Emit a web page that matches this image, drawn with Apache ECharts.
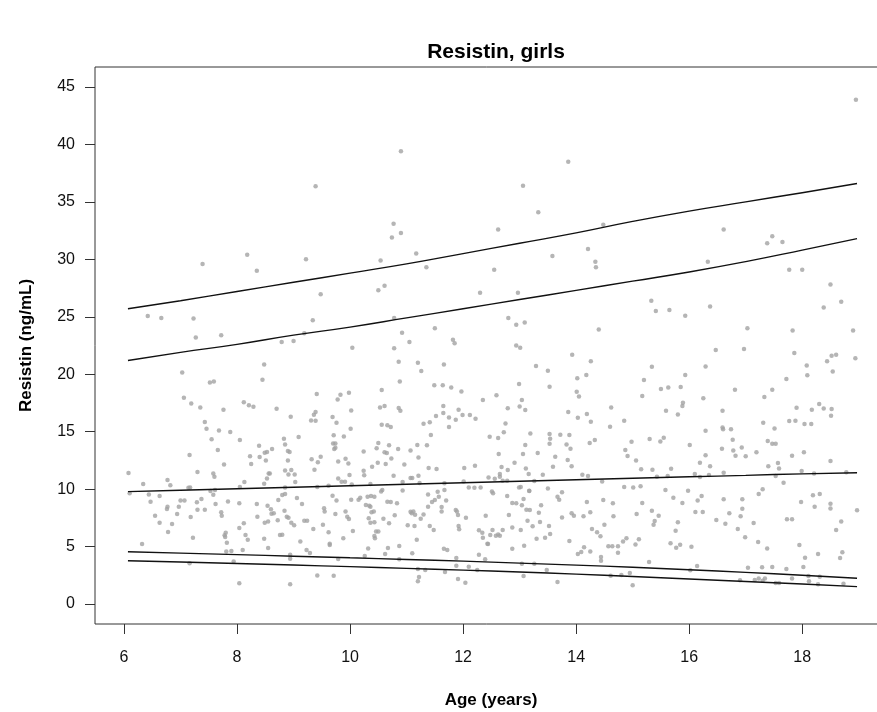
<!DOCTYPE html>
<html>
<head>
<meta charset="utf-8">
<script src="https://cdn.jsdelivr.net/npm/echarts@6/dist/echarts.min.js"></script>
<style>
html,body{margin:0;padding:0;background:#fff;}
#chart{width:877px;height:712px;}
</style>
</head>
<body>
<div id="chart"></div>
<script>
// ---- Data (age in years, resistin ng/mL) ----
const xTicks = [6, 8, 10, 12, 14, 16, 18];
const yTicks = [0, 5, 10, 15, 20, 25, 30, 35, 40, 45];

const obsUpperLeft = [
[6.42,25.07],[6.66,24.9],[7.23,24.86],[7.27,23.2],[7.72,23.4],[7.39,29.6],[8.18,30.4],[8.35,29.0],
[9.22,30.0],[9.39,36.35],[9.48,26.95],[9.34,24.7],[9.19,23.56],[8.79,22.8],[9.0,22.9],[10.04,22.3],
[10.5,27.3],[10.61,27.7],[10.54,29.9],[10.74,31.9],[10.77,33.1],[10.9,32.3],[10.9,39.4],[11.17,30.5],
[11.35,29.3],[10.78,24.9],[10.92,23.6],[11.05,22.8],[10.78,22.25],[11.5,24.0],[11.82,23.0],[11.85,22.7],
[12.3,27.1],[12.55,29.1]
];

const obsUpperRight = [
[18.95,43.9],[13.86,38.5],[13.06,36.4],[13.33,34.1],[12.62,32.6],[14.48,33.0],[16.61,32.6],[17.47,32.0],
[17.38,31.4],[17.65,31.5],[13.58,30.3],[14.21,30.9],[14.34,29.8],[14.35,29.3],[16.33,29.8],[17.77,29.1],
[18.0,29.1],[18.5,27.8],[12.97,27.1],[18.69,26.3],[18.38,25.8],[15.33,26.4],[15.41,25.5],[15.65,25.6],
[15.93,25.1],[16.37,25.9],[12.8,24.9],[12.94,24.3],[13.09,24.5],[14.4,23.9],[17.03,24.0],[17.83,23.8],
[18.9,23.8],[12.94,22.5],[13.01,22.3],[13.93,21.7],[16.47,22.1],[16.97,22.2],[17.86,21.85],[18.52,21.6],
[18.6,21.7],[18.94,21.4]
];

const obsLowerLeft = [
[8.48,20.85],[10.86,21.08],[11.2,21.0],[11.66,20.85],[11.26,20.27],[7.03,20.16],[8.45,19.52],[10.88,19.37],
[7.52,19.29],[7.59,19.37],[11.49,19.05],[11.64,19.05],[11.79,18.85],[11.97,18.5],[12.35,17.75],[9.41,18.27],
[9.83,18.21],[9.98,18.39],[9.78,17.8],[7.06,17.95],[7.19,17.46],[7.35,17.11],[8.12,17.55],[8.21,17.31],
[8.29,17.17],[8.7,17.0],[7.76,16.91],[10.02,16.85],[10.56,18.62],[10.53,17.11],[10.61,17.23],[10.86,17.05],
[10.89,16.82],[11.65,17.23],[11.92,16.91],[11.65,16.62],[11.52,16.36],[11.87,16.04],[11.75,16.24],[11.99,16.45],
[12.12,16.45],[12.22,16.13],[8.95,16.3],[9.39,16.71],[9.36,16.47],[9.31,15.98],[9.39,15.95],[9.69,16.27],
[9.76,15.78],[11.3,15.69],[11.41,15.81],[11.75,15.4],[10.56,15.6],[10.66,15.55],[10.72,15.4],[7.43,15.84],
[7.46,15.26],[7.68,15.11],[7.88,14.97],[7.55,14.33],[8.05,14.27],[8.83,14.39],[8.85,13.89],[9.09,14.53],
[8.9,13.31],[9.71,14.68],[9.7,13.98],[9.74,13.98],[9.89,14.59],[10.01,15.26],[11.43,14.7],[12.47,14.56],
[8.39,13.78],[8.62,13.49],[8.49,13.17],[8.53,13.23],[8.23,12.85],[8.25,12.18],[8.4,12.79],[8.51,12.5],
[8.58,11.37],[8.9,12.5],[9.32,12.59],[9.43,12.33],[9.48,12.82],[9.37,11.69],[9.74,13.6],[9.72,13.49],
[10.24,13.28],[10.5,14.01],[10.47,13.55],[10.69,13.81],[10.61,13.2],[10.65,13.14],[10.63,12.18],[10.73,12.67],
[10.85,13.49],[11.07,13.37],[11.19,13.84],[11.36,13.81],[11.21,12.76],[7.16,12.97],[7.3,11.49],[7.77,12.15],
[7.66,13.4],[8.93,13.23],[8.85,11.63],[8.96,11.66],[9.02,11.28],[8.91,11.28],[9.03,10.62],[9.79,12.41],
[9.92,12.65],[9.97,12.24],[9.79,10.93],[9.91,10.65],[9.99,11.22],[10.24,11.6],[10.25,11.2],[10.39,11.95],
[10.49,12.3],[10.57,9.92],[10.55,9.8],[10.96,12.15],[11.39,11.83],[11.53,11.75],[12.02,11.83],[12.21,12.04],
[12.45,11.02],[12.56,10.91],[6.08,11.4],[6.34,10.44],[6.77,10.79],[6.82,10.33],[7.17,10.15],[7.58,11.37],
[7.6,11.08],[7.53,9.83],[7.58,9.51],[7.61,9.92],[8.05,10.18],[8.13,10.62],[8.48,10.47],[8.53,10.93],
[8.56,11.37],[8.85,10.15],[9.42,10.18],[9.62,10.3],[9.85,10.65],[10.03,10.41],[10.36,10.44],[10.77,11.17],
[10.93,10.62],[11.07,10.96],[11.1,10.96],[11.21,11.17],[11.23,10.53],[11.67,10.5],[11.67,9.92],[12.01,10.67],
[12.1,10.15],[12.2,10.12],[12.31,10.15],[12.51,9.8],[12.53,9.63],
[6.1,9.63],[6.44,9.54],[6.47,8.9],[6.63,9.4],[6.55,7.69],[6.63,7.08],[6.77,8.47],[6.76,8.27],
[6.85,6.96],[6.78,6.27],[6.94,7.83],[6.97,8.47],[7.0,9.02],[7.07,9.02],[7.18,7.57],[7.29,8.85],
[7.3,8.21],[7.37,9.14],[7.43,8.21],[7.22,5.77],[7.62,8.7],[7.72,7.98],[7.73,7.69],[7.84,8.93],
[7.78,5.98],[7.8,6.21],[7.79,5.83],[7.82,5.34],[7.81,4.58],[7.9,4.61],[7.94,3.71],[8.04,8.76],
[8.04,6.61],[8.12,7.02],[8.15,6.0],[8.19,5.6],[8.1,4.7],[8.35,8.7],[8.36,7.6],[8.48,5.69],
[8.49,7.08],[8.55,7.19],[8.54,8.56],[8.6,8.24],[8.61,7.86],[8.65,7.89],[8.55,4.87],[8.72,7.28],
[8.73,9.05],[8.76,6.0],[8.8,6.03],[8.8,9.48],[8.85,9.57],[8.84,8.12],[8.88,7.6],[8.91,7.51],
[8.96,7.08],[9.01,6.85],[9.06,9.22],[9.12,5.45],[9.15,8.7],[9.19,7.25],[9.24,7.25],[9.35,6.53],
[9.23,4.7],[9.29,4.44],[9.54,8.33],[9.55,8.06],[9.52,6.9],[9.62,6.24],[9.64,5.25],[9.64,5.14],
[9.69,9.43],[9.74,7.83],[9.76,9.02],[9.88,5.72],[9.92,8.06],[9.95,7.6],[9.98,7.4],[10.05,6.35],
[10.02,9.08],[10.15,9.08],[10.18,9.25],[10.28,8.61],[10.31,9.34],[10.37,9.4],[10.43,9.34],[10.34,8.56],
[10.36,8.47],[10.38,7.98],[10.42,8.06],[10.33,7.46],[10.36,7.08],[10.43,7.11],[10.46,6.32],[10.5,6.32],
[10.43,5.92],[10.44,5.72],[10.59,7.43],[10.66,8.9],[10.69,7.02],[10.72,8.88],[10.79,7.72],[10.83,8.76],
[10.93,9.89],[11.07,8.04],[11.09,7.89],[11.12,8.06],[11.15,7.77],[11.02,6.85],[11.14,6.79],[11.25,7.43],
[11.3,7.8],[11.38,9.54],[11.38,8.47],[11.41,6.79],[11.45,8.88],[11.48,6.44],[11.5,9.05],[11.55,9.78],
[11.57,9.34],[11.62,8.44],[11.62,8.06],[11.7,9.02],[11.87,8.18],[11.89,8.06],[11.91,7.74],[11.92,6.79],
[11.93,6.5],[12.05,7.51],[12.28,6.41],[12.34,6.21],[12.35,5.77],[12.4,7.69],[12.44,5.22],[12.48,6.0],
[12.52,6.44],
[6.32,5.22],[7.16,3.54],[7.14,10.12],[8.04,1.8],[8.94,4.29],[8.94,3.94],[8.94,1.71],[9.42,2.49],
[9.71,2.47],[9.79,3.92],[10.26,4.18],[10.32,4.84],[10.67,4.87],[10.62,4.35],[10.87,5.05],[10.87,3.89],
[11.1,4.41],[11.18,5.6],[11.2,3.05],[11.22,2.35],[11.2,1.97],[11.33,2.96],[11.66,4.82],[11.72,4.7],
[11.68,2.79],[11.88,4.0],[11.88,3.34],[11.91,2.17],[12.04,1.86],[12.1,3.25],[12.25,2.96],[12.28,4.29],
[12.39,3.89],[12.43,5.25]
];

const obsLowerRight = [
[14.26,21.14],[13.29,20.71],[13.5,20.3],[14.18,19.93],[14.02,19.64],[12.99,19.14],[13.53,18.91],[14.01,18.48],
[14.05,18.07],[12.59,18.18],[13.04,17.75],[13.0,17.2],[13.1,16.88],[12.79,17.03],[13.86,16.71],[14.03,16.21],
[14.19,16.53],[14.26,15.87],[14.62,17.11],[15.34,20.65],[15.2,19.49],[16.29,20.68],[15.93,19.93],[15.5,18.71],
[15.63,18.85],[15.85,18.88],[15.17,18.1],[15.89,17.52],[15.88,17.23],[16.25,17.9],[15.59,16.82],[15.8,16.5],
[18.08,20.77],[18.09,19.9],[18.44,21.14],[18.54,20.24],[16.81,18.65],[17.33,18.01],[17.47,18.65],[17.72,19.58],
[16.59,16.82],[18.17,16.91],[18.3,17.4],[18.38,17.02],[18.52,16.97],[18.51,16.39],[17.77,15.92],[17.88,15.95],
[17.9,17.08],[18.04,15.66],[18.16,15.66],[17.31,15.78],[17.51,15.28],[16.59,15.37],[16.6,15.2],[16.74,15.2],
[16.29,15.08],[14.85,15.95],[14.6,15.43],[12.62,14.44],[12.72,14.94],[12.75,15.72],[13.19,14.85],[13.53,14.79],
[13.54,14.39],[13.53,13.95],[13.72,14.73],[13.88,14.7],[13.83,13.89],[13.9,13.52],[13.1,13.83],[13.06,13.05],
[13.32,13.14],[13.63,12.82],[13.85,12.53],[13.92,11.98],[13.59,11.95],[12.63,13.05],[12.91,12.3],[12.68,11.92],
[12.79,11.66],[12.65,11.31],[12.65,11.08],[12.7,10.73],[12.78,10.73],[13.26,10.7],[13.11,11.8],[13.16,11.31],
[13.41,11.25],[13.5,10.06],[12.99,10.15],[13.02,10.18],[13.17,9.83],[14.11,11.25],[14.21,11.14],[14.33,14.27],
[14.24,14.01],[14.46,10.67],[14.98,14.13],[14.87,13.4],[14.91,12.88],[15.06,12.5],[15.15,11.72],[15.35,11.69],
[15.3,14.36],[15.49,14.15],[15.55,14.47],[15.68,11.78],[15.43,11.08],[15.62,11.14],[16.01,13.83],[16.1,11.31],
[16.19,11.05],[16.19,12.3],[16.29,12.94],[16.37,11.98],[16.35,11.22],[16.61,11.43],[16.58,13.52],[16.77,14.3],
[16.78,13.37],[16.82,12.91],[16.93,13.63],[17.0,12.85],[17.19,13.2],[17.3,9.98],[17.23,9.57],[17.4,11.98],
[17.39,14.18],[17.47,13.95],[17.53,13.95],[17.57,12.27],[17.59,11.8],[17.53,11.14],[17.67,10.56],[17.82,12.91],
[17.99,11.57],[18.03,13.2],[18.21,11.37],[18.5,12.44],[18.78,11.46],[18.97,8.15],
[12.78,9.4],[12.87,8.79],[12.94,8.76],[13.04,8.59],[13.07,9.14],[13.12,8.21],[13.18,8.18],[13.17,9.86],
[13.38,8.59],[13.34,7.95],[13.36,7.14],[13.23,6.76],[13.14,7.25],[13.52,6.79],[13.54,6.09],[13.45,5.77],
[13.3,5.69],[13.67,9.34],[13.7,9.08],[13.75,9.72],[13.75,7.54],[13.92,7.89],[13.96,7.69],[14.13,7.63],
[14.19,8.88],[14.25,7.98],[14.28,6.53],[14.37,6.24],[14.43,5.89],[14.5,6.9],[14.48,9.05],[14.65,8.76],
[14.66,7.63],[14.57,5.02],[14.64,5.02],[14.74,5.02],[14.74,4.47],[14.83,5.45],[14.89,5.72],[15.05,5.19],
[15.11,5.63],[14.85,10.18],[15.01,10.15],[15.14,10.24],[15.07,7.83],[15.17,8.79],[15.34,8.12],[15.46,7.69],
[15.39,7.22],[15.37,6.9],[15.58,9.92],[15.72,9.25],[15.8,7.11],[15.76,6.38],[15.67,5.28],[15.77,4.9],
[15.84,5.16],[15.88,8.79],[15.98,9.86],[16.04,4.99],[16.11,8.01],[16.15,9.02],[16.22,9.4],[16.24,8.01],
[16.48,7.31],[16.61,9.11],[16.64,6.99],[16.71,7.89],[16.86,6.53],[16.91,7.63],[16.94,9.11],[16.94,8.3],
[16.99,5.8],[17.14,7.05],[17.22,5.4],[17.38,4.84],[17.73,7.37],[17.82,7.37],[17.95,5.13],[17.98,8.88],
[18.19,9.46],[18.22,8.47],[18.31,9.57],[18.5,8.73],[18.5,8.32],[18.69,7.19],[18.6,6.44],[18.28,4.35],
[18.05,4.03],[18.71,4.5],[18.67,4.0],
[12.58,5.95],[12.62,6.06],[12.65,5.95],[12.7,6.44],[12.81,7.75],[12.87,6.67],[13.02,6.44],[12.87,4.82],
[13.08,5.08],[13.88,5.48],[14.03,4.35],[14.09,4.53],[14.14,4.93],[14.25,4.58],[14.44,4.09],[14.44,3.77],
[15.29,3.66],[16.02,2.93],[16.14,3.31],[17.04,3.16],[17.29,3.19],[17.47,3.22],[17.72,3.05],[18.02,3.22],
[13.04,3.51],[13.26,3.51],[13.48,2.96],[13.07,2.44],[13.67,1.92],[14.61,2.47],[14.8,2.52],[14.95,2.7],
[15.0,1.63],[16.9,2.06],[17.16,2.09],[17.23,2.21],[17.3,2.03],[17.34,2.21],[17.53,1.83],[17.59,1.83],
[17.82,2.23],[18.11,2.44],[18.12,1.97],[18.28,1.71],[18.31,2.38],[18.73,1.77]
];

// centile curves
const curveAge = [6.07, 7, 8, 9, 10, 11, 12, 13, 14, 15, 16, 17, 18, 18.97];
const p97 = [25.7, 26.4, 27.2, 28.0, 28.8, 29.6, 30.5, 31.4, 32.3, 33.3, 34.2, 35.0, 35.8, 36.6];
const p90 = [21.2, 21.9, 22.6, 23.4, 24.1, 24.9, 25.7, 26.5, 27.3, 28.1, 28.9, 29.8, 30.8, 31.8];
const p50 = [9.78, 9.9, 10.03, 10.16, 10.29, 10.42, 10.55, 10.68, 10.81, 10.94, 11.07, 11.2, 11.33, 11.43];
const p10 = [4.55, 4.43, 4.30, 4.16, 4.02, 3.88, 3.73, 3.56, 3.38, 3.20, 2.98, 2.75, 2.50, 2.24];
const p3  = [3.77, 3.65, 3.52, 3.39, 3.25, 3.10, 2.95, 2.78, 2.60, 2.40, 2.18, 1.96, 1.74, 1.51];

// ---- Chart ----
const FONT = '"Liberation Sans", Arial, Helvetica, sans-serif';
const allObs = obsUpperLeft.concat(obsUpperRight, obsLowerLeft, obsLowerRight);
function curve(vals) { return curveAge.map((a, i) => [a, vals[i]]); }
function lineSeries(name, vals) {
  return {
    name: name, type: 'line', data: curve(vals), showSymbol: false, smooth: true,
    lineStyle: { color: '#111', width: 1.4 }, z: 5, silent: true
  };
}

const chart = echarts.init(document.getElementById('chart'), null, { renderer: 'canvas' });
chart.setOption({
  animation: false,
  backgroundColor: '#fff',
  title: {
    text: 'Resistin, girls', left: 491, top: 37, textAlign: 'center',
    textStyle: { fontFamily: FONT, fontWeight: 'bold', fontSize: 21, color: '#000' }
  },
  grid: {
    left: 95, top: 67, bottom: 88, right: -10,
    outerBoundsMode: 'none', containLabel: false,
    show: true, borderColor: '#333', borderWidth: 1, backgroundColor: 'transparent'
  },
  xAxis: {
    type: 'value', min: 5.487, max: 19.5,
    name: 'Age (years)', nameLocation: 'middle', nameGap: 68,
    nameTextStyle: { fontFamily: FONT, fontWeight: 'bold', fontSize: 17, color: '#000' },
    axisLine: { show: false, onZero: false },
    splitLine: { show: false },
    axisTick: { show: true, length: 10, lineStyle: { color: '#333' }, customValues: xTicks },
    axisLabel: { fontFamily: FONT, fontSize: 16, color: '#111', margin: 26, customValues: xTicks }
  },
  yAxis: {
    type: 'value', min: -1.74, max: 46.74,
    name: 'Resistin (ng/mL)', nameLocation: 'middle', nameGap: 60, nameRotate: 90,
    nameTextStyle: { fontFamily: FONT, fontWeight: 'bold', fontSize: 17, color: '#000' },
    axisLine: { show: false, onZero: false },
    splitLine: { show: false },
    axisTick: { show: true, length: 10, lineStyle: { color: '#333' }, customValues: yTicks },
    axisLabel: { fontFamily: FONT, fontSize: 16, color: '#111', margin: 20, customValues: yTicks }
  },
  series: [
    {
      name: 'observed', type: 'scatter', data: allObs, symbol: 'circle', symbolSize: 4.5,
      itemStyle: { color: '#a2a2a2' }, z: 3, silent: true
    },
    lineSeries('P97', p97),
    lineSeries('P90', p90),
    lineSeries('P50', p50),
    lineSeries('P10', p10),
    lineSeries('P3', p3)
  ]
});
</script>
</body>
</html>
